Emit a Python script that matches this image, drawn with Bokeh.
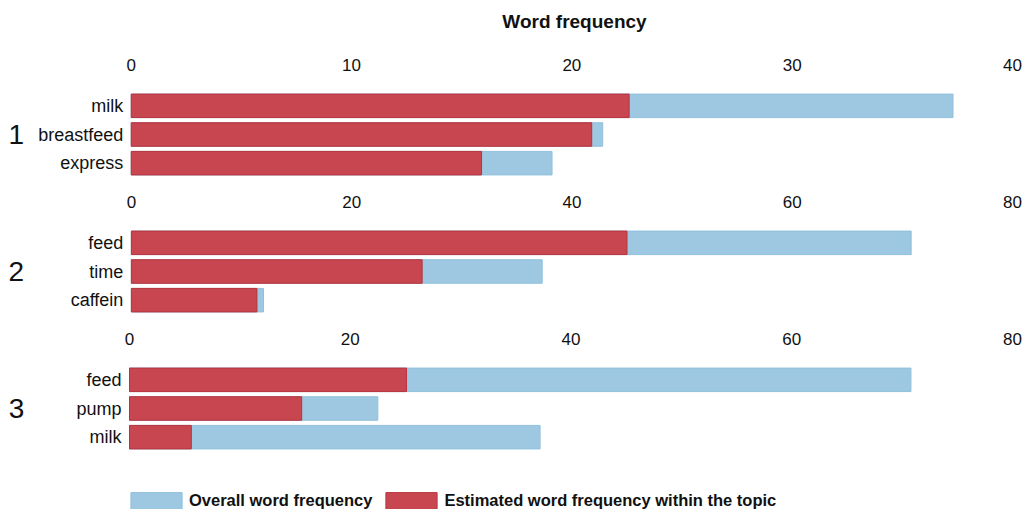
from bokeh.plotting import figure
from bokeh.models import Range1d, Legend, LegendItem, FixedTicker, ColumnDataSource, Label
from bokeh.core.properties import value
from bokeh.layouts import column
from bokeh.embed import file_html
from bokeh.resources import INLINE

# ---- data ----
topic_labels = ["1", "2", "3"]

words_1 = ["milk", "breastfeed", "express"]
overall_1 = [37.3, 21.4, 19.1]
estimated_1 = [22.6, 20.9, 15.9]

words_2 = ["feed", "time", "caffein"]
overall_2 = [70.8, 37.3, 12.0]
estimated_2 = [45.0, 26.4, 11.4]

words_3 = ["feed", "pump", "milk"]
overall_3 = [70.8, 22.5, 37.2]
estimated_3 = [25.1, 15.6, 5.6]

ticks_1 = [0, 10, 20, 30, 40]
ticks_23 = [0, 20, 40, 60, 80]

axis_title = "Word frequency"
legend_overall = "Overall word frequency"
legend_estimated = "Estimated word frequency within the topic"

# ---- style ----
BLUE = "#9ec8e1"
BLUE_EDGE = "#8fc0dd"
RED = "#c8464f"
RED_EDGE = "#b7343e"
FONT = "Liberation Sans"
TXT = "#111111"
W = 1024
ROW_PX = 86 / 3  # pixel height of one word row
HEAD = 40        # height of the header strip holding the axis title


def make_panel(words, overall, est, xmax, ticks, topic, height, b_top,
               zero_px, right_px, extra_px=0):
    n = len(words)
    rows = list(range(n))[::-1]          # first word on top
    # the frame spans the full width; the label gutter left of zero is part of the x range
    x_start = -xmax * zero_px / (right_px - zero_px)
    p = figure(width=W, height=height,
               y_range=Range1d(-0.5 - extra_px / ROW_PX, n - 0.5),
               x_range=Range1d(x_start, xmax), x_axis_location="above",
               y_axis_location=None,
               output_backend="svg", toolbar_location=None, tools="",
               min_border_top=b_top, min_border_bottom=0,
               min_border_left=0, min_border_right=W - right_px)
    src = ColumnDataSource(dict(row=rows, word=words, overall=overall, est=est))
    rb = p.hbar(y="row", left=0, right="overall", height=0.82, source=src,
                fill_color=BLUE, line_color=BLUE_EDGE, line_width=1)
    rr = p.hbar(y="row", left=0, right="est", height=0.82, source=src,
                fill_color=RED, line_color=RED_EDGE, line_width=1)
    # word labels, right-aligned just left of zero
    p.text(x=0, y="row", text="word", source=src, x_offset=-8,
           text_align="right", text_baseline="middle",
           text_font=value(FONT), text_font_size="18px", text_color=TXT)
    # topic number at the middle row
    p.text(x=[0], y=[rows[n // 2]], text=[topic], x_offset=16 - zero_px,
           text_align="center", text_baseline="middle",
           text_font=value(FONT), text_font_size="28px", text_color=TXT)
    p.outline_line_color = None
    p.grid.visible = False
    p.background_fill_color = "white"
    p.border_fill_color = "white"

    xa = p.xaxis[0]
    xa.ticker = FixedTicker(ticks=ticks)
    xa.axis_line_color = None
    xa.major_tick_line_color = None
    xa.minor_tick_line_color = None
    xa.major_tick_out = 0
    xa.major_tick_in = 0
    xa.major_label_standoff = 21
    xa.major_label_text_font = FONT
    xa.major_label_text_font_size = "17px"
    xa.major_label_text_color = TXT
    return p, rb, rr


# header strip with the shared axis title
head = figure(width=W, height=HEAD, x_axis_location=None, y_axis_location=None,
              output_backend="svg", toolbar_location=None, tools="",
              min_border=0, outline_line_color=None)
head.grid.visible = False
head.add_layout(Label(x=574, y=HEAD - 21, x_units="screen", y_units="screen",
                      text=axis_title, text_align="center", text_baseline="middle",
                      text_font=FONT, text_font_size="19px", text_font_style="bold",
                      text_color=TXT))

p1, _, _ = make_panel(words_1, overall_1, estimated_1, 40, ticks_1, topic_labels[0],
                      177 - HEAD, 91 - HEAD, 131, 1014)
p2, _, _ = make_panel(words_2, overall_2, estimated_2, 80, ticks_23, topic_labels[1],
                      137, 51, 131, 1013)
p3, rb3, rr3 = make_panel(words_3, overall_3, estimated_3, 80, ticks_23, topic_labels[2],
                          195, 51, 129, 1012, extra_px=58)

legend = Legend(items=[LegendItem(label=legend_overall, renderers=[rb3]),
                       LegendItem(label=legend_estimated, renderers=[rr3])],
                orientation="horizontal", location=(124, -2),
                glyph_width=64, glyph_height=21, label_standoff=1, spacing=7,
                padding=0, margin=0, border_line_color=None,
                background_fill_alpha=0,
                label_text_font=FONT, label_text_font_size="16.5px",
                label_text_font_style="bold", label_text_color=TXT,
                label_height=17)
p3.add_layout(legend, "center")

layout = column(head, p1, p2, p3, spacing=0)
open("out.html", "w").write(file_html(layout, INLINE))
